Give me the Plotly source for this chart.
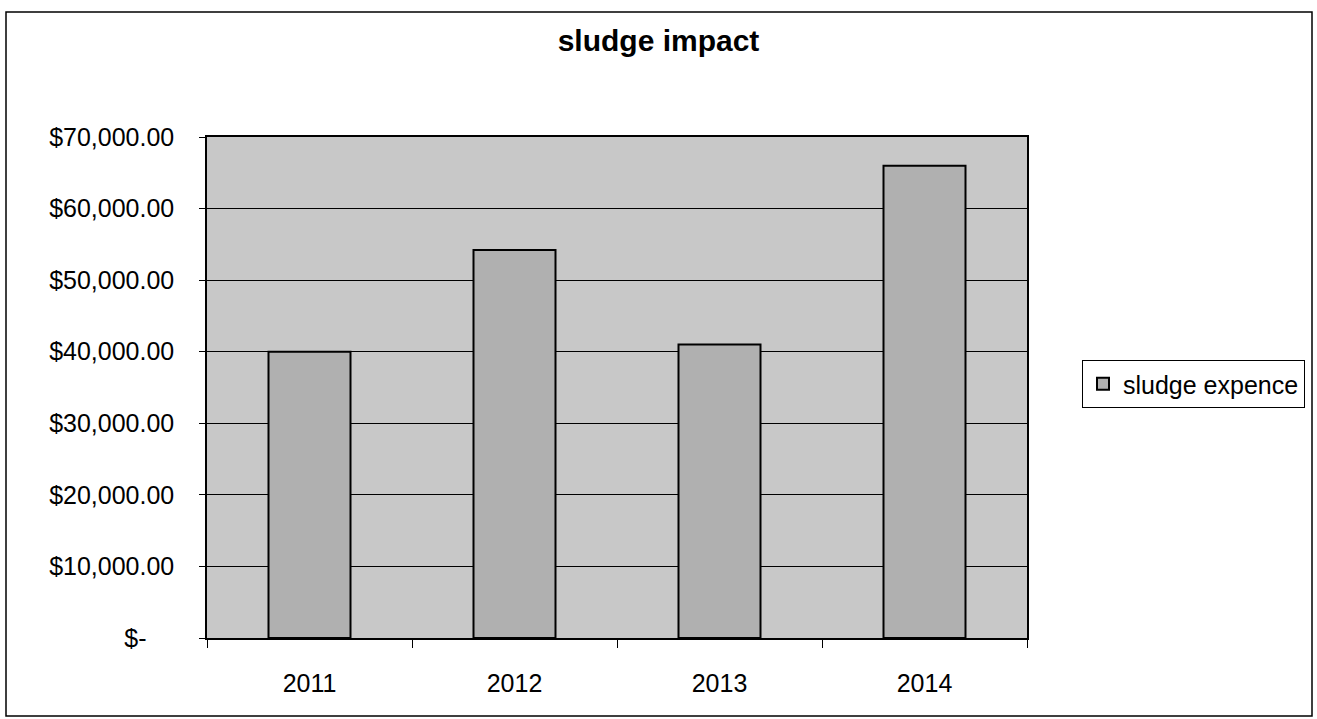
import plotly.graph_objects as go

# Yearly sludge expense
years = ["2011", "2012", "2013", "2014"]
sludge_expence = [40000, 54200, 41000, 66000]

# Y axis ticks in accounting currency format
y_tick_values = [0, 10000, 20000, 30000, 40000, 50000, 60000, 70000]
y_tick_labels = ["$-" + "\u00a0" * 4, "$10,000.00", "$20,000.00", "$30,000.00",
                 "$40,000.00", "$50,000.00", "$60,000.00", "$70,000.00"]

W, H = 1317, 719
L, R, T, B = 207, 290, 137, 81
pw, ph = W - L - R, H - T - B

def px_x(p):
    return (p - L) / pw

def px_y(p):
    return (H - B - p) / ph

font_family = "Arial, Liberation Sans, sans-serif"

fig = go.Figure()
fig.add_trace(go.Bar(
    x=years,
    y=sludge_expence,
    name="sludge expence",
    width=0.4,
    marker=dict(color="#b0b0b0", line=dict(color="#000000", width=2)),
))

fig.update_layout(
    width=W,
    height=H,
    margin=dict(l=L, r=R, t=T, b=B, autoexpand=False),
    paper_bgcolor="#ffffff",
    plot_bgcolor="#c8c8c8",
    font=dict(family=font_family, size=25, color="#000000"),
    title=dict(
        text="<b>sludge impact</b>",
        font=dict(family=font_family, size=30, color="#000000"),
        x=0.5, xref="container", xanchor="center",
        y=1 - 40 / H, yref="container", yanchor="middle",
    ),
    showlegend=True,
    legend=dict(
        x=px_x(1082), y=px_y(384), xanchor="left", yanchor="middle",
        bgcolor="#ffffff", bordercolor="#000000", borderwidth=1,
        font=dict(family=font_family, size=25, color="#000000"),
    ),
    bargap=0.6,
)

fig.update_xaxes(
    type="category",
    showline=True, linecolor="#000000", linewidth=1.5, mirror=True,
    ticks="outside", tickson="boundaries", ticklen=8, tickcolor="#000000",
    showgrid=False,
    ticklabelstandoff=22,
)

fig.update_yaxes(
    range=[0, 70000],
    tickvals=y_tick_values,
    ticktext=y_tick_labels,
    showline=True, linecolor="#000000", linewidth=1.5, mirror=True,
    ticks="outside", ticklen=6, tickcolor="#000000",
    showgrid=True, gridcolor="#000000", gridwidth=1.3,
    zeroline=False,
    ticklabelstandoff=20,
)

# Outer chart frame
fig.add_shape(
    type="rect", xref="paper", yref="paper",
    x0=px_x(6), x1=px_x(1312), y0=px_y(716), y1=px_y(12),
    line=dict(color="#000000", width=1.5), fillcolor="rgba(0,0,0,0)",
    layer="below",
)

fig.write_html("out.html")
